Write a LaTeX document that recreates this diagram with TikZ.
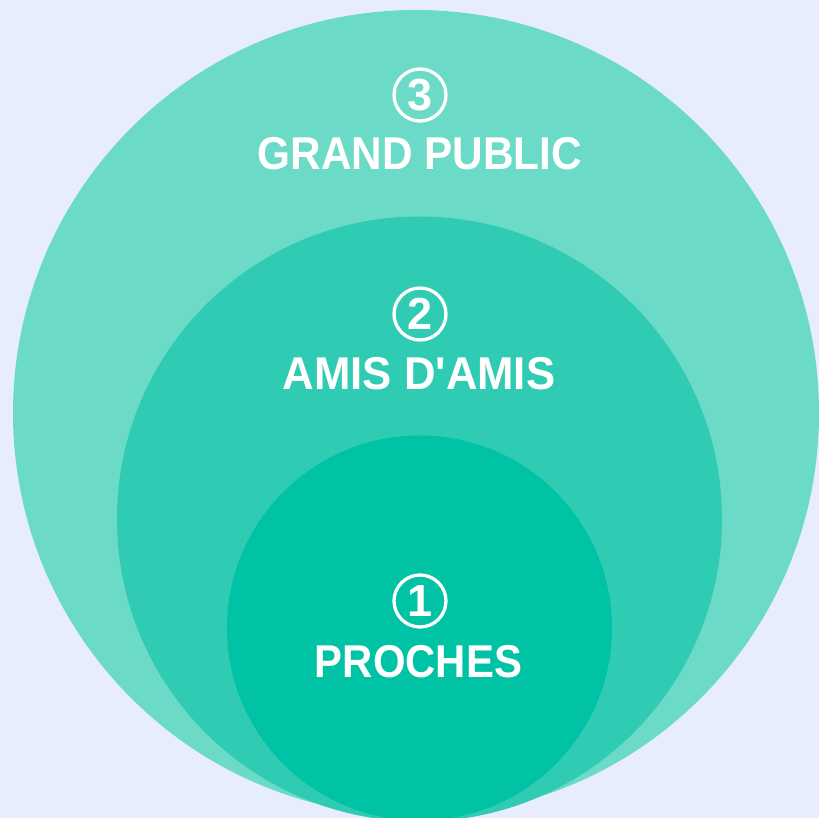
\documentclass[tikz,border=0pt]{standalone}
\usepackage{fontspec}
\setmainfont{Liberation Sans}
\definecolor{bgc}{HTML}{E8EDFC}
\definecolor{outerc}{HTML}{6BDBC7}
\definecolor{midc}{HTML}{2FCBB3}
\definecolor{innerc}{HTML}{00C2A5}
\tikzset{
  label text/.style={text=white, inner sep=0pt, anchor=base, font=\fontsize{46}{46}\selectfont\bfseries},
  numring/.style={circle, draw=white, line width=3.3pt, minimum size=52pt, inner sep=0pt, text=white, font=\fontsize{45}{45}\selectfont\bfseries}
}
\begin{document}
\begin{tikzpicture}[x=1pt,y=-1pt]
\useasboundingbox (0,0) rectangle (819,818);
\fill[bgc] (0,0) rectangle (819,818);
\begin{scope}
\clip (0,0) rectangle (819,818);
\fill[outerc] (416,413) circle[radius=403];
\fill[midc] (419.5,519) circle[radius=302.5];
\fill[innerc] (419.5,628) circle[radius=192.5];
\end{scope}
\node[numring] (n3) at (420,95) {3};
\node[label text] (t3) at (420,170) {\scalebox{0.92}[1]{GRAND PUBLIC}};
\node[numring] (n2) at (420,314) {2};
\node[label text] (t2) at (419,389) {\scalebox{0.95}[1]{AMIS D\textquotesingle AMIS}};
\node[numring] (n1) at (420,601) {1};
\node[label text] (t1) at (418.5,677) {\scalebox{0.91}[1]{PROCHES}};
\end{tikzpicture}
\end{document}
